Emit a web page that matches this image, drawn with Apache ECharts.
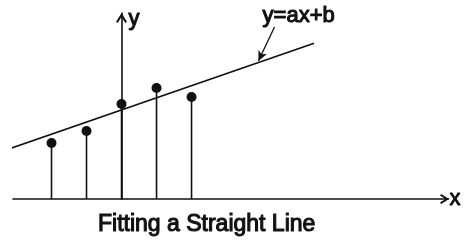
<!DOCTYPE html>
<html>
<head>
<meta charset="utf-8">
<script src="https://cdn.jsdelivr.net/npm/echarts@6/dist/echarts.min.js"></script>
<style>
  html, body { margin: 0; padding: 0; background: #fff; }
  #chart { width: 464px; height: 241px; }
</style>
</head>
<body>
<div id="chart"></div>
<script>
// sample points (x, y)
var pointX = [-2, -1, 0, 1, 2];
var pointY = [5.6, 6.8, 9.5, 11.1, 10.2];
// fitted line end points
var fitX = [-3.17, 5.5];
var fitY = [5.07, 15.57];
// pointer from the label to the line
var pointerFrom = [4.37, 17.2];
var pointerTo = [3.91, 13.8];

var ink = "#111";
var chevron = "path://M5,0 L10,8 L8.6,9.2 L5,3.6 L1.4,9.2 L0,8 Z";

var chart = echarts.init(document.getElementById("chart"));

var option = {
  animation: false,
  backgroundColor: "#fff",
  textStyle: { fontFamily: "Liberation Sans, Arial, sans-serif", color: ink },
  title: {
    text: "Fitting a Straight Line",
    left: 98,
    top: 213,
    padding: 0,
    textStyle: {
      fontSize: 23,
      fontWeight: "normal",
      color: ink,
      textBorderColor: ink,
      textBorderWidth: 1.1
    }
  },
  graphic: [
    {
      type: "text",
      left: 262,
      top: 4,
      style: {
        text: "y=ax+b",
        fontSize: 22,
        fontFamily: "Liberation Sans, Arial, sans-serif",
        fill: ink,
        stroke: ink,
        lineWidth: 1.1
      }
    }
  ],
  grid: { left: 13, right: 12, top: 13, bottom: 42 },
  xAxis: {
    type: "value",
    min: -3.1,
    max: 9.34,
    name: "x",
    nameGap: 1,
    nameTextStyle: {
      fontSize: 22,
      color: ink,
      textBorderColor: ink,
      textBorderWidth: 1,
      padding: [0, 0, 4, 0]
    },
    axisLine: {
      onZero: false,
      symbol: ["none", chevron],
      symbolSize: [10, 9],
      symbolOffset: [0, -4],
      lineStyle: { color: ink, width: 1.6 }
    },
    axisTick: { show: false },
    axisLabel: { show: false },
    splitLine: { show: false }
  },
  yAxis: {
    type: "value",
    min: 0,
    max: 18.6,
    name: "y",
    nameGap: -6,
    nameTextStyle: {
      fontSize: 22,
      color: ink,
      align: "left",
      verticalAlign: "middle",
      textBorderColor: ink,
      textBorderWidth: 1,
      padding: [0, 0, 0, 7]
    },
    axisLine: {
      onZero: true,
      symbol: ["none", chevron],
      symbolSize: [11, 10],
      symbolOffset: [0, -5],
      lineStyle: { color: ink, width: 1.6 }
    },
    axisTick: { show: false },
    axisLabel: { show: false },
    splitLine: { show: false }
  },
  series: [
    {
      type: "bar",
      barWidth: 1.6,
      itemStyle: { color: ink },
      data: pointX.map(function (x, i) { return [x, pointY[i]]; }),
      z: 2
    },
    {
      type: "scatter",
      symbol: "circle",
      symbolSize: 10,
      itemStyle: { color: ink, opacity: 1 },
      data: pointX.map(function (x, i) { return [x, pointY[i]]; }),
      z: 4
    },
    {
      type: "line",
      clip: false,
      symbol: "none",
      lineStyle: { color: ink, width: 1.6 },
      data: fitX.map(function (x, i) { return [x, fitY[i]]; }),
      markLine: {
        silent: true,
        symbol: ["none", "arrow"],
        symbolSize: [7, 10],
        label: { show: false },
        lineStyle: { color: ink, width: 1.3, type: "solid" },
        data: [[{ coord: pointerFrom }, { coord: pointerTo }]]
      },
      z: 3
    }
  ]
};

chart.setOption(option);
</script>
</body>
</html>
